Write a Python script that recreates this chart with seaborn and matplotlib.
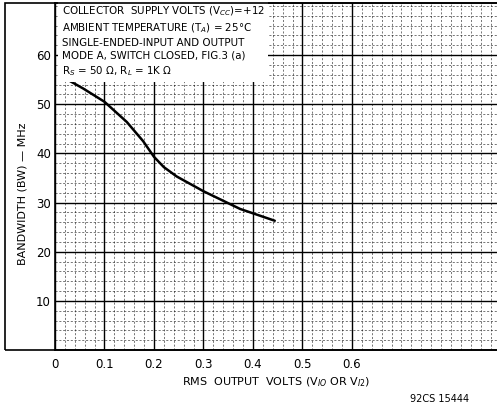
import numpy as np
import pandas as pd
import matplotlib
matplotlib.use('Agg')
import matplotlib.pyplot as plt
import seaborn as sns
from matplotlib.patches import Rectangle

# ========================================
# Data
# ========================================
rms_volts = [0.02, 0.057, 0.10, 0.145, 0.178, 0.20, 0.22, 0.246, 0.30, 0.374, 0.444]
bandwidth_mhz = [55.3, 53.2, 50.5, 46.4, 42.5, 39.3, 37.2, 35.3, 32.3, 28.7, 26.3]

x_ticks = [0, 0.1, 0.2, 0.3, 0.4, 0.5, 0.6]
x_tick_labels = ['0', '0.1', '0.2', '0.3', '0.4', '0.5', '0.6']
y_ticks = [10, 20, 30, 40, 50, 60]
y_tick_labels = ['10', '20', '30', '40', '50', '60']

note_lines = [
    'COLLECTOR  SUPPLY VOLTS (V$_{CC}$)=+12',
    'AMBIENT TEMPERATURE (T$_{A}$) = 25°C',
    'SINGLE-ENDED-INPUT AND OUTPUT',
    'MODE A, SWITCH CLOSED, FIG.3 (a)',
    'R$_{S}$ = 50 Ω, R$_{L}$ = 1K Ω',
]

df = pd.DataFrame({'volts': rms_volts, 'bw': bandwidth_mhz})

sns.set_theme(style='white')
plt.rcParams['font.family'] = ['DejaVu Sans']
plt.rcParams['text.color'] = 'black'
plt.rcParams['axes.labelcolor'] = 'black'
plt.rcParams['xtick.color'] = 'black'
plt.rcParams['ytick.color'] = 'black'

fig = plt.figure(figsize=(4.97, 4.07), dpi=100)
ax = fig.add_axes([55 / 497, 57 / 407, 442 / 497, 347 / 407])

# graph paper grid
ax.set_xlim(0, 0.893)
ax.set_ylim(0, 70.6)
ax.set_xticks(np.arange(0, 0.893, 0.02), minor=True)
ax.set_yticks(np.arange(0, 70.6, 2), minor=True)
ax.grid(which='minor', color='black', lw=0.5, ls=(0, (3, 2.5)), alpha=0.75)
ax.set_xticks(np.arange(0, 0.893, 0.1))
ax.set_yticks(np.arange(0, 70.6, 10))
ax.grid(which='major', color='black', lw=1.0)
ax.tick_params(which='both', length=0)
ax.set_axisbelow(True)

sns.lineplot(data=df, x='volts', y='bw', color='black', lw=1.8, ax=ax)

ax.set_xticks(x_ticks)
ax.set_xticklabels(x_tick_labels, fontsize=8.5)
ax.set_yticks(y_ticks)
ax.set_yticklabels(y_tick_labels, fontsize=8.5)
ax.tick_params(axis='x', pad=6)
ax.tick_params(axis='y', pad=3)
ax.set_xlabel('RMS  OUTPUT  VOLTS (V$_{IO}$ OR V$_{I2}$)', fontsize=8, labelpad=3)
ax.set_ylabel('BANDWIDTH (BW) — MHz', fontsize=8)
ax.yaxis.set_label_coords(-0.062, 0.45)

for s in ax.spines.values():
    s.set_color('black')
    s.set_linewidth(1.2)
ax.spines['right'].set_visible(False)

ax.text(0.015, 0.995, '\n'.join(note_lines), transform=ax.transAxes,
        ha='left', va='top', fontsize=7.4, linespacing=1.35,
        bbox=dict(facecolor='white', edgecolor='none', pad=2.5))

# outer frame around the label area
fig.patches.append(Rectangle((5 / 497, 57 / 407), 500 / 497, 347 / 407,
                             transform=fig.transFigure, fill=False,
                             edgecolor='black', lw=1.2))

fig.text(440 / 497, 1 - 399 / 407, '92CS 15444', ha='center', va='center', fontsize=7)

plt.savefig('out.png', dpi=100)
